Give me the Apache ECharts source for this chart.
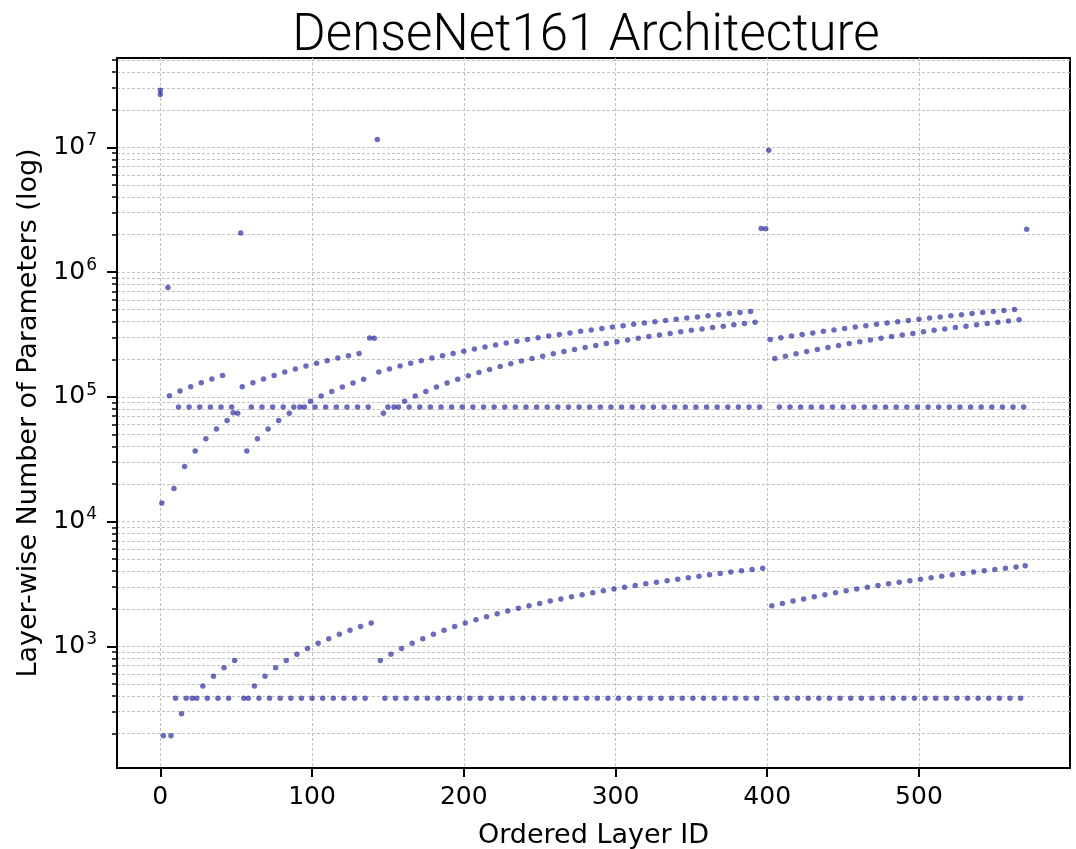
<!DOCTYPE html>
<html>
<head>
<meta charset="utf-8" />
<title>DenseNet161 Architecture</title>
<script src="https://cdn.jsdelivr.net/npm/echarts@6/dist/echarts.min.js"></script>
<style>
  html, body { margin: 0; padding: 0; background: #fff; }
  #chart { width: 1076px; height: 849px; }
</style>
</head>
<body>
<div id="chart"></div>
<script>
// parameter count of every module, in module order (layer id = position)
// whole network, plotted at layer 0 together with "features"
var modelTotal = [28681000];
// features, conv0, norm0, relu0, pool0
var stem = [26472000, 14112, 192, 0, 0];
// denseblock1, then per dense layer: layer, norm1, relu1, conv1, norm2, relu2, conv2
var block1 = [
  751392,
  101952, 192, 0, 18432, 384, 0, 82944,
  111264, 288, 0, 27648, 384, 0, 82944,
  120576, 384, 0, 36864, 384, 0, 82944,
  129888, 480, 0, 46080, 384, 0, 82944,
  139200, 576, 0, 55296, 384, 0, 82944,
  148512, 672, 0, 64512, 384, 0, 82944
];
// transition: block, norm, relu, conv, pool
var trans1 = [74496, 768, 0, 73728, 0];
var block2 = [
  2061504,
  120576, 384, 0, 36864, 384, 0, 82944,
  129888, 480, 0, 46080, 384, 0, 82944,
  139200, 576, 0, 55296, 384, 0, 82944,
  148512, 672, 0, 64512, 384, 0, 82944,
  157824, 768, 0, 73728, 384, 0, 82944,
  167136, 864, 0, 82944, 384, 0, 82944,
  176448, 960, 0, 92160, 384, 0, 82944,
  185760, 1056, 0, 101376, 384, 0, 82944,
  195072, 1152, 0, 110592, 384, 0, 82944,
  204384, 1248, 0, 119808, 384, 0, 82944,
  213696, 1344, 0, 129024, 384, 0, 82944,
  223008, 1440, 0, 138240, 384, 0, 82944
];
var trans2 = [296448, 1536, 0, 294912, 0];
var block3 = [
  11548224,
  157824, 768, 0, 73728, 384, 0, 82944,
  167136, 864, 0, 82944, 384, 0, 82944,
  176448, 960, 0, 92160, 384, 0, 82944,
  185760, 1056, 0, 101376, 384, 0, 82944,
  195072, 1152, 0, 110592, 384, 0, 82944,
  204384, 1248, 0, 119808, 384, 0, 82944,
  213696, 1344, 0, 129024, 384, 0, 82944,
  223008, 1440, 0, 138240, 384, 0, 82944,
  232320, 1536, 0, 147456, 384, 0, 82944,
  241632, 1632, 0, 156672, 384, 0, 82944,
  250944, 1728, 0, 165888, 384, 0, 82944,
  260256, 1824, 0, 175104, 384, 0, 82944,
  269568, 1920, 0, 184320, 384, 0, 82944,
  278880, 2016, 0, 193536, 384, 0, 82944,
  288192, 2112, 0, 202752, 384, 0, 82944,
  297504, 2208, 0, 211968, 384, 0, 82944,
  306816, 2304, 0, 221184, 384, 0, 82944,
  316128, 2400, 0, 230400, 384, 0, 82944,
  325440, 2496, 0, 239616, 384, 0, 82944,
  334752, 2592, 0, 248832, 384, 0, 82944,
  344064, 2688, 0, 258048, 384, 0, 82944,
  353376, 2784, 0, 267264, 384, 0, 82944,
  362688, 2880, 0, 276480, 384, 0, 82944,
  372000, 2976, 0, 285696, 384, 0, 82944,
  381312, 3072, 0, 294912, 384, 0, 82944,
  390624, 3168, 0, 304128, 384, 0, 82944,
  399936, 3264, 0, 313344, 384, 0, 82944,
  409248, 3360, 0, 322560, 384, 0, 82944,
  418560, 3456, 0, 331776, 384, 0, 82944,
  427872, 3552, 0, 340992, 384, 0, 82944,
  437184, 3648, 0, 350208, 384, 0, 82944,
  446496, 3744, 0, 359424, 384, 0, 82944,
  455808, 3840, 0, 368640, 384, 0, 82944,
  465120, 3936, 0, 377856, 384, 0, 82944,
  474432, 4032, 0, 387072, 384, 0, 82944,
  483744, 4128, 0, 396288, 384, 0, 82944
];
var trans3 = [2234496, 4224, 0, 2230272, 0];
var block4 = [
  9486720,
  288192, 2112, 0, 202752, 384, 0, 82944,
  297504, 2208, 0, 211968, 384, 0, 82944,
  306816, 2304, 0, 221184, 384, 0, 82944,
  316128, 2400, 0, 230400, 384, 0, 82944,
  325440, 2496, 0, 239616, 384, 0, 82944,
  334752, 2592, 0, 248832, 384, 0, 82944,
  344064, 2688, 0, 258048, 384, 0, 82944,
  353376, 2784, 0, 267264, 384, 0, 82944,
  362688, 2880, 0, 276480, 384, 0, 82944,
  372000, 2976, 0, 285696, 384, 0, 82944,
  381312, 3072, 0, 294912, 384, 0, 82944,
  390624, 3168, 0, 304128, 384, 0, 82944,
  399936, 3264, 0, 313344, 384, 0, 82944,
  409248, 3360, 0, 322560, 384, 0, 82944,
  418560, 3456, 0, 331776, 384, 0, 82944,
  427872, 3552, 0, 340992, 384, 0, 82944,
  437184, 3648, 0, 350208, 384, 0, 82944,
  446496, 3744, 0, 359424, 384, 0, 82944,
  455808, 3840, 0, 368640, 384, 0, 82944,
  465120, 3936, 0, 377856, 384, 0, 82944,
  474432, 4032, 0, 387072, 384, 0, 82944,
  483744, 4128, 0, 396288, 384, 0, 82944,
  493056, 4224, 0, 405504, 384, 0, 82944,
  502368, 4320, 0, 414720, 384, 0, 82944
];
// norm5, classifier
var head = [4416, 2209000];

var xTicks = [0, 100, 200, 300, 400, 500];
var yMajorTicks = [1e3, 1e4, 1e5, 1e6, 1e7];
var yMinorTicks = [
  200, 300, 400, 500, 600, 700, 800, 900,
  2000, 3000, 4000, 5000, 6000, 7000, 8000, 9000,
  20000, 30000, 40000, 50000, 60000, 70000, 80000, 90000,
  200000, 300000, 400000, 500000, 600000, 700000, 800000, 900000,
  2000000, 3000000, 4000000, 5000000, 6000000, 7000000, 8000000, 9000000,
  20000000, 30000000, 40000000, 50000000
];

var layerParams = [].concat(stem, block1, trans1, block2, trans2, block3, trans3, block4, head);
var points = [];
modelTotal.forEach(function (v) { points.push([0, v]); });
layerParams.forEach(function (v, i) {
  if (v > 0) points.push([i, v]);   // zero-param modules cannot show on a log axis
});

var font = 'DejaVu Sans';
var gridLine = { show: true, lineStyle: { color: '#c2c2c2', width: 1, type: [3, 2] } };

var chart = echarts.init(document.getElementById('chart'), null, { renderer: 'canvas' });
chart.setOption({
  animation: false,
  backgroundColor: '#fff',
  title: {
    text: 'DenseNet161 Architecture',
    left: 581,
    textAlign: 'center',
    top: 7,
    textStyle: { fontFamily: 'Roboto', fontWeight: 300, fontSize: 51, color: '#000' }
  },
  grid: {
    left: 117, right: 6, top: 58, bottom: 81,
    show: true, borderColor: '#000', borderWidth: 2,
    outerBoundsMode: 'none'
  },
  xAxis: {
    type: 'value',
    min: -28.55,
    max: 599.55,
    name: 'Ordered Layer ID',
    nameLocation: 'middle',
    nameGap: 54,
    nameTextStyle: { fontFamily: font, fontSize: 27, color: '#000' },
    axisLine: { show: true, onZero: false, lineStyle: { color: '#000', width: 2 } },
    axisTick: { show: true, customValues: xTicks, length: 9, lineStyle: { color: '#000', width: 2 } },
    axisLabel: { customValues: xTicks, margin: 17, fontFamily: font, fontSize: 25, color: '#000' },
    splitLine: gridLine
  },
  yAxis: [{
    type: 'log',
    logBase: 10,
    min: 105.8,
    max: 5.203e7,
    name: 'Layer-wise Number of Parameters (log)',
    nameLocation: 'middle',
    nameGap: 64,
    nameTextStyle: { fontFamily: font, fontSize: 27, color: '#000' },
    axisLine: { show: true, onZero: false, lineStyle: { color: '#000', width: 2 } },
    axisTick: { show: true, customValues: yMajorTicks, length: 10, lineStyle: { color: '#000', width: 2 } },
    axisLabel: {
      customValues: yMajorTicks,
      margin: 20,
      formatter: function (v) {
        return '{b|10}{s|' + Math.round(Math.log10(v)) + '}';
      },
      rich: {
        b: { fontFamily: font, fontSize: 25, color: '#000' },
        s: { fontFamily: font, fontSize: 17, color: '#000', padding: [0, 0, 13, 1] }
      }
    },
    splitLine: gridLine
  }, {
    type: 'log',
    logBase: 10,
    min: 105.8,
    max: 5.203e7,
    position: 'left',
    axisLine: { show: false, onZero: false },
    axisTick: { show: true, customValues: yMinorTicks, length: 5, lineStyle: { color: '#000', width: 1.5 } },
    axisLabel: { show: false },
    splitLine: gridLine
  }],
  series: [{
    type: 'scatter',
    yAxisIndex: 0,
    symbol: 'circle',
    symbolSize: 5.5,
    itemStyle: { color: 'rgba(0, 0, 139, 0.72)' },
    data: points
  }]
});
</script>
</body>
</html>
